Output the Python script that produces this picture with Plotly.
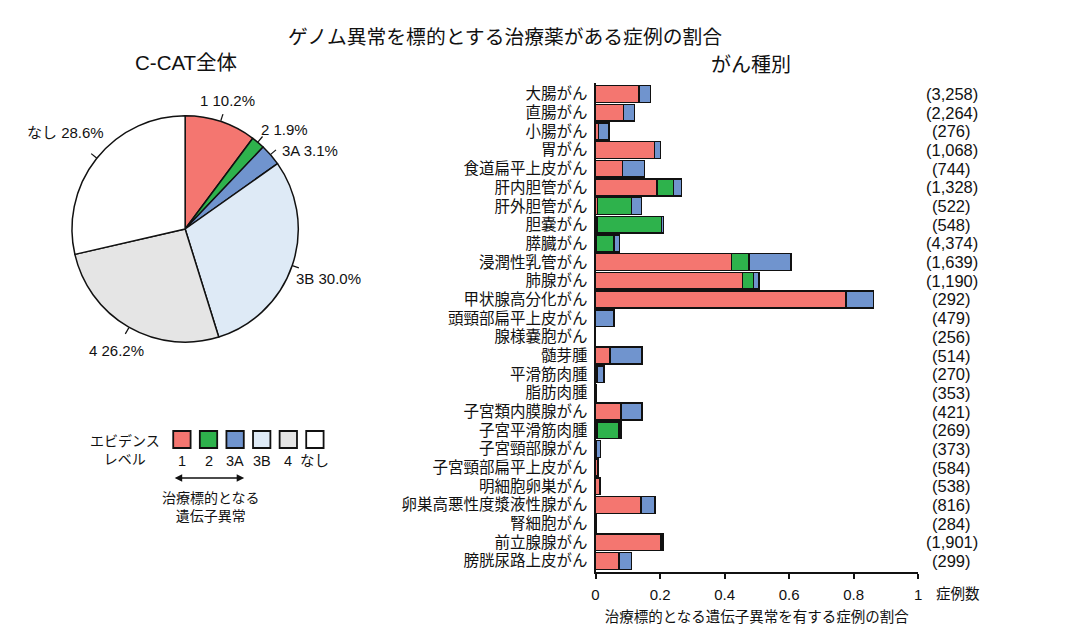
import math
import plotly.graph_objects as go

W, H = 1069, 643

TITLE = "ゲノム異常を標的とする治療薬がある症例の割合"
PIE_TITLE = "C-CAT全体"
BAR_TITLE = "がん種別"
X_TITLE = "治療標的となる遺伝子異常を有する症例の割合"
COUNT_TITLE = "症例数"

# evidence levels (whole C-CAT cohort, %)
LEVELS = ["1", "2", "3A", "3B", "4", "なし"]
LEVEL_SHARE = [10.2, 1.9, 3.1, 30.0, 26.2, 28.6]
LEVEL_COLORS = ["#F47670", "#2EB24C", "#7094CE", "#DEEAF6", "#E5E5E5", "#FFFFFF"]

CANCER_TYPES = [
    "大腸がん", "直腸がん", "小腸がん", "胃がん", "食道扁平上皮がん",
    "肝内胆管がん", "肝外胆管がん", "胆嚢がん", "膵臓がん", "浸潤性乳管がん",
    "肺腺がん", "甲状腺高分化がん", "頭頸部扁平上皮がん", "腺様嚢胞がん", "髄芽腫",
    "平滑筋肉腫", "脂肪肉腫", "子宮類内膜腺がん", "子宮平滑筋肉腫", "子宮頸部腺がん",
    "子宮頸部扁平上皮がん", "明細胞卵巣がん", "卵巣高悪性度漿液性腺がん", "腎細胞がん",
    "前立腺腺がん", "膀胱尿路上皮がん",
]
CASE_COUNTS = [
    "3,258", "2,264", "276", "1,068", "744", "1,328", "522", "548", "4,374",
    "1,639", "1,190", "292", "479", "256", "514", "270", "353", "421", "269",
    "373", "584", "538", "816", "284", "1,901", "299",
]
# fraction of cases per evidence level
LEVEL1 = [
    0.134, 0.087, 0.009, 0.183, 0.083, 0.190, 0.006, 0.004, 0.003, 0.421,
    0.456, 0.776, 0.000, 0.000, 0.045, 0.004, 0.002, 0.079, 0.004, 0.003,
    0.007, 0.012, 0.141, 0.002, 0.203, 0.073,
]
LEVEL2 = [
    0.000, 0.000, 0.000, 0.000, 0.000, 0.051, 0.106, 0.201, 0.054, 0.054,
    0.034, 0.000, 0.000, 0.000, 0.000, 0.000, 0.000, 0.000, 0.068, 0.000,
    0.000, 0.000, 0.000, 0.000, 0.000, 0.000,
]
LEVEL3A = [
    0.036, 0.034, 0.032, 0.019, 0.069, 0.025, 0.031, 0.006, 0.018, 0.131,
    0.017, 0.085, 0.058, 0.000, 0.099, 0.022, 0.000, 0.065, 0.007, 0.012,
    0.000, 0.004, 0.043, 0.000, 0.006, 0.039,
]
X_TICKS = [0, 0.2, 0.4, 0.6, 0.8, 1]
X_TICKTEXT = ["0", "0.2", "0.4", "0.6", "0.8", "1"]

FONT = "Liberation Sans, Arial, Noto Sans CJK JP, sans-serif"
LINE = "#111111"

# small neighbouring slices get their labels fanned out a little (degrees)
LABEL_NUDGE = {"2": 5, "3A": 9}


def px(x):
    return x / W


def py(y):
    return 1 - y / H


def label(x, y, text, size, xa="center", ya="middle", **kw):
    return dict(xref="paper", yref="paper", x=px(x), y=py(y), text=text,
                showarrow=False, xanchor=xa, yanchor=ya,
                font=dict(size=size), **kw)


def text_width(text, size):
    # rough Arial-like advance widths
    w = 0
    for ch in text:
        if ord(ch) > 0x2E80:
            w += 1.0
        elif ch in " .,":
            w += 0.278
        elif ch == "%":
            w += 0.889
        elif ch.isupper():
            w += 0.667
        else:
            w += 0.556
    return w * size


fig = go.Figure()

# ---- pie ----
cx, cy, r = 182.5, 229, 114
fig.add_trace(go.Pie(
    labels=LEVELS, values=LEVEL_SHARE, sort=False, direction="clockwise",
    rotation=0, textinfo="none", hoverinfo="label+value",
    marker=dict(colors=LEVEL_COLORS, line=dict(color=LINE, width=1.5)),
    domain=dict(x=[px(cx - r), px(cx + r)], y=[py(cy + r), py(cy - r)]),
    showlegend=False,
))

shapes = []
annotations = []

total = sum(LEVEL_SHARE)
acc = 0
for lvl, share in zip(LEVELS, LEVEL_SHARE):
    mid = (acc + share / 2) / total * 2 * math.pi
    acc += share
    s, c = math.sin(mid), math.cos(mid)
    shapes.append(dict(type="line", xref="paper", yref="paper",
                       x0=px(cx + r * s), y0=py(cy - r * c),
                       x1=px(cx + (r + 7) * s), y1=py(cy - (r + 7) * c),
                       line=dict(color=LINE, width=1.2)))
    txt = f"{lvl} {share:.1f}%"
    ang = mid + math.radians(LABEL_NUDGE.get(lvl, 0))
    s2, c2 = math.sin(ang), math.cos(ang)
    half = abs(s2) * text_width(txt, 15) / 2 + abs(c2) * 7
    d = r + 6 + half
    annotations.append(label(cx + d * s2, cy - d * c2, txt, 15))

# ---- stacked bars ----
for vals, col in zip([LEVEL1, LEVEL2, LEVEL3A], LEVEL_COLORS[:3]):
    fig.add_trace(go.Bar(
        y=CANCER_TYPES, x=vals, orientation="h",
        marker=dict(color=col, line=dict(color=LINE, width=1.5)),
        showlegend=False, xaxis="x", yaxis="y",
    ))

for cat, n in zip(CANCER_TYPES, CASE_COUNTS):
    annotations.append(dict(xref="paper", yref="y", x=px(955), y=cat, text=f"({n})",
                            showarrow=False, xanchor="center", yanchor="middle",
                            font=dict(size=16.5)))

annotations.append(label(961, 594, COUNT_TITLE, 14.5))

# ---- titles ----
annotations.append(label(505, 37, TITLE, 19.8))
annotations.append(label(183, 63, PIE_TITLE, 20.5))
annotations.append(label(753, 65, BAR_TITLE, 20))

# ---- evidence level key ----
annotations.append(label(122, 450, "エビデンス<br>レベル", 14, align="center"))
for i, (lvl, col) in enumerate(zip(LEVELS, LEVEL_COLORS)):
    x0 = 170.5 + i * 26.8
    shapes.append(dict(type="rect", xref="paper", yref="paper",
                       x0=px(x0), x1=px(x0 + 17.5), y0=py(448), y1=py(431),
                       fillcolor=col, line=dict(color=LINE, width=1.8)))
    annotations.append(label(x0 + 8.8, 461, lvl, 14.5))
annotations.append(dict(xref="paper", yref="paper", x=px(242), y=py(478),
                        ax=-71, ay=0, text="", showarrow=True,
                        arrowside="end+start", arrowhead=2, arrowsize=1,
                        arrowwidth=1.5, arrowcolor=LINE, standoff=0, startstandoff=0))
annotations.append(label(209, 507, "治療標的となる<br>遺伝子異常", 14, align="center"))

fig.update_layout(
    width=W, height=H,
    margin=dict(l=0, r=0, t=0, b=0, pad=0),
    paper_bgcolor="white", plot_bgcolor="white",
    font=dict(family=FONT, size=15, color="#111111"),
    barmode="stack", bargap=0.1,
    showlegend=False,
    xaxis=dict(
        domain=[px(596), px(921)], range=[0, 1],
        tickvals=X_TICKS, ticktext=X_TICKTEXT,
        ticks="outside", ticklen=5, tickwidth=1.5, tickcolor=LINE,
        showline=True, linecolor=LINE, linewidth=2,
        showgrid=False, zeroline=False, fixedrange=True,
        tickfont=dict(size=15), ticklabelstandoff=3,
        title=dict(text=X_TITLE, font=dict(size=14.5), standoff=10),
    ),
    yaxis=dict(
        domain=[py(572), py(83)],
        categoryorder="array", categoryarray=CANCER_TYPES, autorange="reversed",
        tickmode="array", tickvals=CANCER_TYPES, ticktext=CANCER_TYPES,
        showline=True, linecolor=LINE, linewidth=2, ticks="",
        showgrid=False, zeroline=False, fixedrange=True,
        tickfont=dict(size=15.5), ticklabelstandoff=3,
    ),
    shapes=shapes,
    annotations=annotations,
)

# page body has a default 8px margin; drop it so paper coords match the window
fig.write_html("out.html", config={"displayModeBar": False},
               post_script="document.body.style.margin='0px';")
